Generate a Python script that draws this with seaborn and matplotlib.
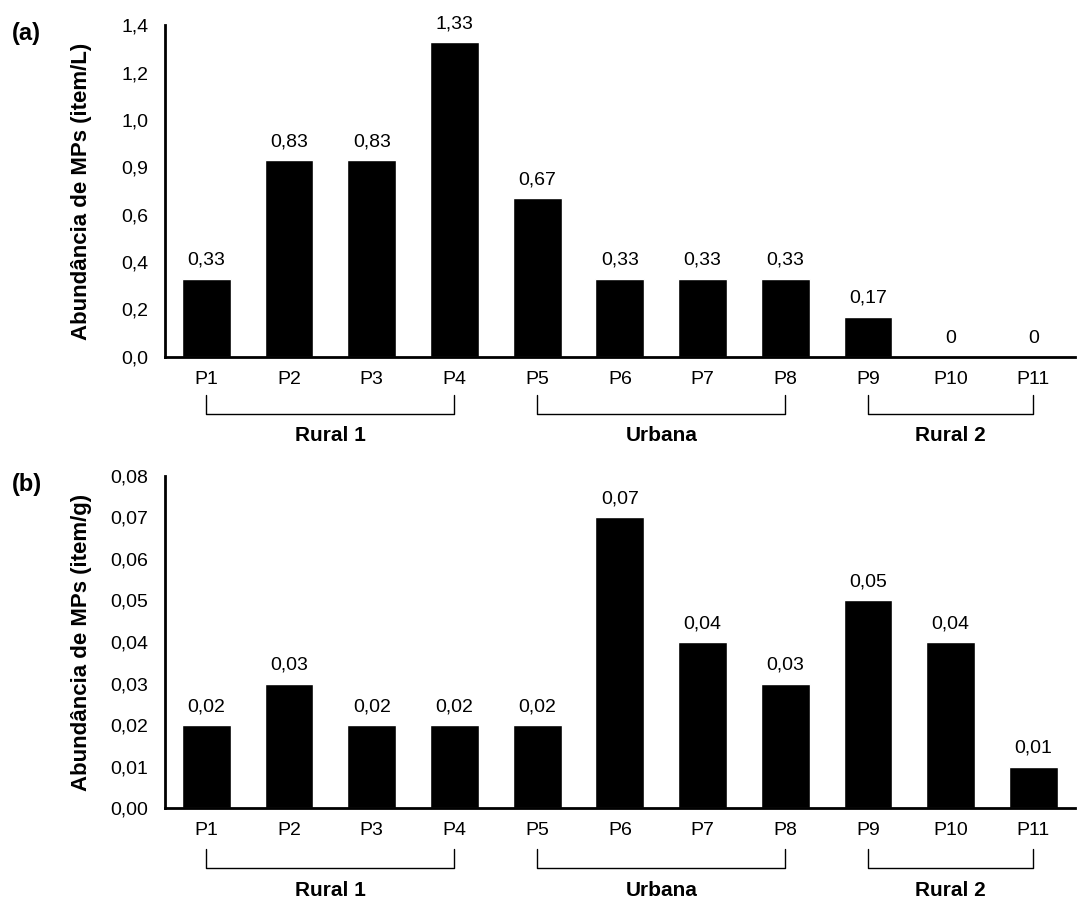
import matplotlib
matplotlib.use('Agg')
import matplotlib.pyplot as plt
import seaborn as sns
import pandas as pd

# Dados
pontos = ['P1', 'P2', 'P3', 'P4', 'P5', 'P6', 'P7', 'P8', 'P9', 'P10', 'P11']
agua = [0.33, 0.83, 0.83, 1.33, 0.67, 0.33, 0.33, 0.33, 0.17, 0, 0]
sedimento = [0.02, 0.03, 0.02, 0.02, 0.02, 0.07, 0.04, 0.03, 0.05, 0.04, 0.01]
ticks_a = [0, 0.2, 0.4, 0.6, 0.8, 1.0, 1.2, 1.4]
ticks_a_lab = ['0,0', '0,2', '0,4', '0,6', '0,9', '1,0', '1,2', '1,4']
ticks_b = [0, 0.01, 0.02, 0.03, 0.04, 0.05, 0.06, 0.07, 0.08]
ticks_b_lab = ['0,00', '0,01', '0,02', '0,03', '0,04', '0,05', '0,06', '0,07', '0,08']
grupos = [('Rural 1', 0, 3), ('Urbana', 4, 7), ('Rural 2', 8, 10)]

sns.set_style('white')
plt.rcParams['font.family'] = ['Liberation Sans', 'DejaVu Sans']
plt.rcParams['text.color'] = 'black'
plt.rcParams['axes.labelcolor'] = 'black'
plt.rcParams['xtick.color'] = 'black'
plt.rcParams['ytick.color'] = 'black'

fig = plt.figure(figsize=(10.78, 9.01), dpi=100)
ax_a = fig.add_axes([0.153, 0.604, 0.844, 0.368])
ax_b = fig.add_axes([0.153, 0.103, 0.844, 0.369])


def painel(ax, valores, ticks, ticks_lab, ylabel, letra, bra):
    df = pd.DataFrame({'Ponto': pontos, 'Valor': valores})
    sns.barplot(data=df, x='Ponto', y='Valor', color='black', width=0.59,
                saturation=1, ax=ax)
    labs = ['0' if v == 0 else f'{v:.2f}'.replace('.', ',') for v in valores]
    ax.bar_label(ax.containers[0], labels=labs, padding=7, fontsize=14)
    ax.set_ylim(ticks[0], ticks[-1])
    ax.set_xlim(-0.5, len(pontos) - 0.5)
    ax.set_yticks(ticks)
    ax.set_yticklabels(ticks_lab)
    ax.tick_params(axis='both', length=0, labelsize=14)
    ax.tick_params(axis='x', pad=10)
    ax.tick_params(axis='y', pad=12)
    ax.set_xlabel('')
    ax.set_ylabel(ylabel, fontsize=16, fontweight='bold')
    ax.yaxis.set_label_coords(-0.08, 0.5)
    for s in ['top', 'right']:
        ax.spines[s].set_visible(False)
    for s in ['left', 'bottom']:
        ax.spines[s].set_color('black')
        ax.spines[s].set_linewidth(2)
    ax.text(-0.168, 0.975, letra, transform=ax.transAxes, fontsize=17,
            fontweight='bold', va='center', ha='left')
    trans = ax.get_xaxis_transform()
    y1, y2, y3 = bra
    for nome, i0, i1 in grupos:
        ax.plot([i0, i0, i1, i1], [y1, y2, y2, y1], color='black', lw=1,
                transform=trans, clip_on=False)
        ax.text((i0 + i1) / 2, y3, nome, transform=trans, ha='center',
                va='center', fontsize=15, fontweight='bold')


painel(ax_a, agua, ticks_a, ticks_a_lab, 'Abundância de MPs (item/L)', '(a)',
       (-0.114, -0.172, -0.237))
painel(ax_b, sedimento, ticks_b, ticks_b_lab, 'Abundância de MPs (item/g)', '(b)',
       (-0.123, -0.181, -0.248))

fig.savefig('out.png', dpi=100)
